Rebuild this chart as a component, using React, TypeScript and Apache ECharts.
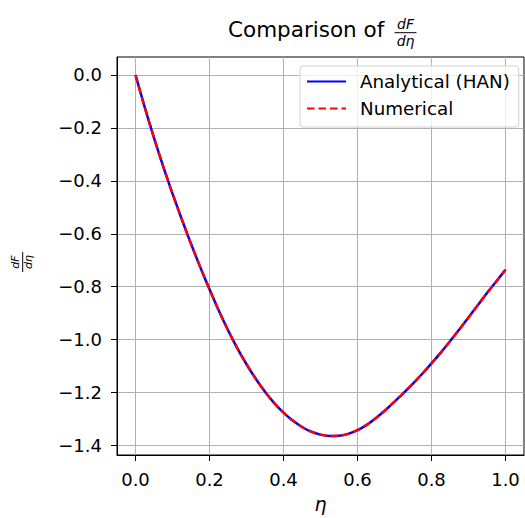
import { useEffect, useRef } from 'react';
import * as echarts from 'echarts';

const eta = [
  0, 0.025, 0.05, 0.075, 0.1, 0.125, 0.15, 0.175, 0.2, 0.225,
  0.25, 0.275, 0.3, 0.325, 0.35, 0.375, 0.4, 0.425, 0.45, 0.475,
  0.5, 0.525, 0.55, 0.575, 0.6, 0.625, 0.65, 0.675, 0.7, 0.725,
  0.75, 0.775, 0.8, 0.825, 0.85, 0.875, 0.9, 0.925, 0.95, 0.975, 1.0,
];
const analytical = [
  0, -0.122, -0.238, -0.346, -0.448, -0.545, -0.638, -0.726, -0.81, -0.89,
  -0.964, -1.032, -1.093, -1.148, -1.197, -1.24, -1.276, -1.306, -1.33, -1.348,
  -1.359, -1.364, -1.363, -1.356, -1.342, -1.322, -1.296, -1.267, -1.234, -1.201,
  -1.166, -1.129, -1.09, -1.049, -1.006, -0.962, -0.916, -0.87, -0.824, -0.78, -0.736,
];
const numerical = [
  0, -0.122, -0.238, -0.346, -0.448, -0.545, -0.638, -0.726, -0.81, -0.89,
  -0.964, -1.032, -1.093, -1.148, -1.197, -1.24, -1.276, -1.306, -1.33, -1.348,
  -1.359, -1.364, -1.363, -1.356, -1.342, -1.322, -1.296, -1.267, -1.234, -1.201,
  -1.166, -1.129, -1.09, -1.049, -1.006, -0.962, -0.916, -0.87, -0.824, -0.78, -0.736,
];
const xTicks = [0, 0.2, 0.4, 0.6, 0.8, 1.0];
const yTicks = [0, -0.2, -0.4, -0.6, -0.8, -1.0, -1.2, -1.4];

const FONT = '"DejaVu Sans", sans-serif';
const fmt = (v: number) => {
  const s = (Math.abs(v) < 1e-9 ? 0 : v).toFixed(1);
  return s.replace('-', '\u2212');
};

export default function App() {
  const ref = useRef<HTMLDivElement>(null);
  useEffect(() => {
    if (!ref.current) return;
    const chart = echarts.init(ref.current, null, { renderer: 'svg' });
    const tickFont = 18;
    chart.setOption({
      animation: false,
      backgroundColor: '#fff',
      textStyle: { fontFamily: FONT },
      grid: { left: 117, right: 1, top: 57, bottom: 55, show: true, borderColor: '#000', borderWidth: 1, containLabel: false },
      xAxis: {
        type: 'value',
        min: -0.05,
        max: 1.05,
        name: 'η',
        nameLocation: 'middle',
        nameGap: 39,
        nameTextStyle: { fontFamily: FONT, fontStyle: 'italic', fontSize: 19, color: '#000' },
        axisLine: { show: true, onZero: false, lineStyle: { color: '#000', width: 1 } },
        axisTick: { show: true, length: 6, inside: false, lineStyle: { color: '#000', width: 1 }, customValues: xTicks },
        axisLabel: { show: true, margin: 15, fontSize: tickFont, fontFamily: FONT, color: '#000', customValues: xTicks, formatter: (v: number) => fmt(v) },
        splitLine: { show: true, lineStyle: { color: '#b0b0b0', width: 1 } },
      },
      yAxis: {
        type: 'value',
        min: -1.436,
        max: 0.068,
        axisLine: { show: true, onZero: false, lineStyle: { color: '#000', width: 1 } },
        axisTick: { show: true, length: 6, inside: false, lineStyle: { color: '#000', width: 1 }, customValues: yTicks },
        axisLabel: { show: true, margin: 15, fontSize: tickFont, fontFamily: FONT, color: '#000', customValues: yTicks, formatter: (v: number) => fmt(v) },
        splitLine: { show: true, lineStyle: { color: '#b0b0b0', width: 1 } },
      },
      legend: {
        show: true,
        orient: 'vertical',
        left: 300,
        top: 66,
        padding: [5, 9, 8, 6],
        itemWidth: 39,
        itemHeight: 14,
        itemGap: 6,
        backgroundColor: 'rgba(255,255,255,0.8)',
        borderColor: '#d0d0d0',
        borderWidth: 1,
        borderRadius: 3,
        itemStyle: { opacity: 0 },
        textStyle: { fontFamily: FONT, fontSize: 18.3, color: '#000', lineHeight: 21, padding: [0, 0, 0, 9] },
        data: ['Analytical (HAN)', 'Numerical'],
      },
      series: [
        {
          name: 'Analytical (HAN)',
          type: 'line',
          data: eta.map((x, i) => [x, analytical[i]]),
          smooth: 0.3,
          symbol: 'none',
          lineStyle: { color: '#0000ff', width: 2.5, type: 'solid' },
          itemStyle: { color: '#0000ff' },
          z: 3,
        },
        {
          name: 'Numerical',
          type: 'line',
          data: eta.map((x, i) => [x, numerical[i]]),
          smooth: 0.3,
          symbol: 'none',
          lineStyle: { color: '#ff0000', width: 2.5, type: [7.5, 4] },
          itemStyle: { color: '#ff0000' },
          z: 4,
        },
      ],
      graphic: [
        {
          type: 'text',
          x: 228,
          y: 29,
          style: { text: 'Comparison of', fontSize: 21.5, fontFamily: FONT, fill: '#000', align: 'left', verticalAlign: 'middle' },
        },
        {
          type: 'group',
          x: 405.5,
          y: 32.7,
          children: [
            { type: 'text', x: 0, y: -9, style: { text: 'dF', fontSize: 14, fontStyle: 'italic', fontFamily: FONT, fill: '#000', align: 'center', verticalAlign: 'middle' } },
            { type: 'line', shape: { x1: -11, y1: 0, x2: 11, y2: 0 }, style: { stroke: '#000', lineWidth: 1 } },
            { type: 'text', x: 0, y: 8, style: { text: 'dη', fontSize: 14, fontStyle: 'italic', fontFamily: FONT, fill: '#000', align: 'center', verticalAlign: 'middle' } },
          ],
        },
        {
          type: 'group',
          x: 22.7,
          y: 262,
          rotation: Math.PI / 2,
          children: [
            { type: 'text', x: 0, y: -7, style: { text: 'dF', fontSize: 11, fontStyle: 'italic', fontFamily: FONT, fill: '#000', align: 'center', verticalAlign: 'middle' } },
            { type: 'line', shape: { x1: -10, y1: 0, x2: 10, y2: 0 }, style: { stroke: '#000', lineWidth: 1 } },
            { type: 'text', x: 0, y: 6, style: { text: 'dη', fontSize: 11, fontStyle: 'italic', fontFamily: FONT, fill: '#000', align: 'center', verticalAlign: 'middle' } },
          ],
        },
      ],
    });
    return () => chart.dispose();
  }, []);
  return <div ref={ref} style={{ position: 'absolute', left: 0, top: 0, width: 525, height: 518 }} />;
}
